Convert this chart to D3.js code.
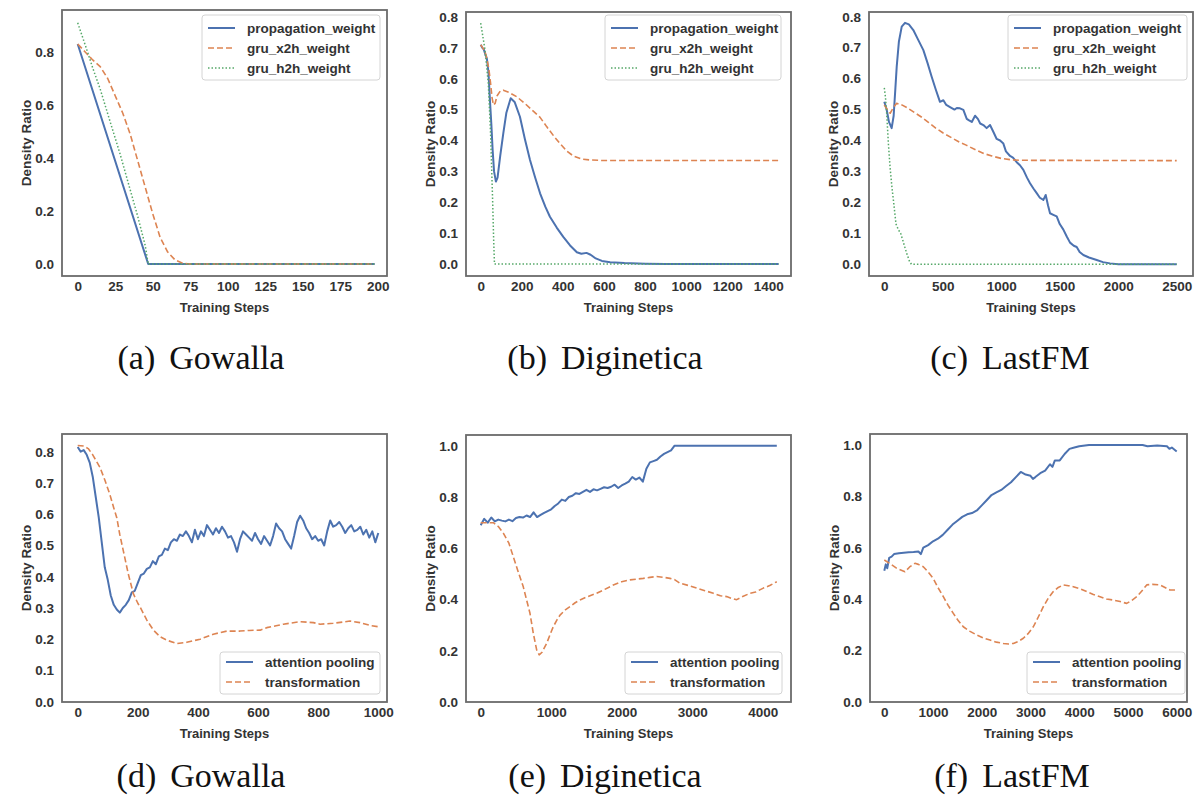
<!DOCTYPE html>
<html>
<head>
<meta charset="utf-8">
<script src="https://cdnjs.cloudflare.com/ajax/libs/d3/7.8.5/d3.min.js"></script>
<style>
  body { margin: 0; background: #fff; }
  svg { display: block; }
</style>
</head>
<body>
<svg id="chart" width="1195" height="804"></svg>
<script>
// ---- data: (a) Gowalla, weights ----
const gowallaPropSteps = [0, 47, 198];
const gowallaPropVals = [0.83, 0.0, 0.0];
const gowallaX2hSteps = [0, 5, 10, 15, 20, 25, 30, 35, 40, 45, 50, 55, 60, 65, 70, 75, 198];
const gowallaX2hVals = [0.83, 0.80, 0.77, 0.745, 0.70, 0.635, 0.57, 0.49, 0.39, 0.29, 0.19, 0.10, 0.045, 0.015, 0.003, 0.0, 0.0];
const gowallaH2hSteps = [0, 6, 10, 15, 22, 28, 35, 40, 45, 47, 198];
const gowallaH2hVals = [0.91, 0.81, 0.74, 0.66, 0.53, 0.42, 0.28, 0.18, 0.07, 0.0, 0.0];

// ---- data: (b) Diginetica, weights ----
const digiPropSteps = [0, 8, 15, 22, 30, 38, 45, 52, 58, 65, 74, 82, 95, 110, 125, 146, 165, 191, 215, 240, 265, 289, 315, 337, 370, 402, 435, 468, 490, 515, 535, 560, 590, 630, 700, 800, 900, 1450];
const digiPropVals = [0.71, 0.70, 0.695, 0.68, 0.665, 0.62, 0.53, 0.45, 0.37, 0.30, 0.267, 0.28, 0.35, 0.423, 0.49, 0.537, 0.525, 0.477, 0.405, 0.337, 0.28, 0.229, 0.185, 0.153, 0.118, 0.088, 0.06, 0.038, 0.033, 0.036, 0.03, 0.018, 0.01, 0.006, 0.003, 0.001, 0.0, 0.0];
const digiX2hSteps = [0, 10, 20, 30, 40, 48, 55, 62, 70, 80, 95, 110, 140, 175, 215, 256, 289, 321, 355, 386, 420, 451, 490, 532, 600, 1450];
const digiX2hVals = [0.71, 0.70, 0.69, 0.665, 0.63, 0.586, 0.54, 0.515, 0.52, 0.545, 0.56, 0.563, 0.555, 0.542, 0.52, 0.495, 0.475, 0.445, 0.415, 0.39, 0.365, 0.35, 0.34, 0.337, 0.335, 0.335];
const digiH2hSteps = [0, 5, 21, 37, 48, 58, 63, 67, 1450];
const digiH2hVals = [0.78, 0.76, 0.693, 0.585, 0.424, 0.207, 0.08, 0.0, 0.0];

// ---- data: (c) LastFM, weights ----
const lastfmPropSteps = [0, 20, 40, 63, 80, 95, 106, 125, 149, 177, 210, 248, 290, 334, 370, 405, 440, 476, 505, 530, 562, 600, 620, 647, 676, 705, 725, 748, 776, 800, 820, 847, 875, 904, 930, 961, 990, 1018, 1040, 1075, 1100, 1132, 1160, 1189, 1220, 1246, 1275, 1303, 1330, 1360, 1380, 1400, 1417, 1445, 1474, 1500, 1531, 1560, 1588, 1620, 1645, 1670, 1702, 1750, 1816, 1870, 1930, 2000, 2500];
const lastfmPropVals = [0.525, 0.50, 0.46, 0.44, 0.48, 0.57, 0.638, 0.72, 0.768, 0.78, 0.775, 0.757, 0.725, 0.692, 0.65, 0.606, 0.565, 0.525, 0.53, 0.515, 0.508, 0.50, 0.505, 0.504, 0.499, 0.47, 0.465, 0.46, 0.48, 0.47, 0.455, 0.45, 0.44, 0.45, 0.43, 0.405, 0.40, 0.39, 0.365, 0.35, 0.345, 0.33, 0.32, 0.305, 0.28, 0.262, 0.245, 0.23, 0.215, 0.208, 0.224, 0.19, 0.165, 0.16, 0.155, 0.13, 0.112, 0.09, 0.07, 0.06, 0.056, 0.04, 0.03, 0.022, 0.014, 0.007, 0.003, 0.0, 0.0];
const lastfmX2hSteps = [0, 25, 50, 75, 106, 150, 200, 260, 320, 380, 440, 500, 570, 640, 700, 780, 850, 920, 1000, 1080, 1160, 2500];
const lastfmX2hVals = [0.515, 0.50, 0.488, 0.505, 0.52, 0.515, 0.505, 0.49, 0.475, 0.458, 0.44, 0.425, 0.41, 0.395, 0.385, 0.37, 0.358, 0.35, 0.342, 0.338, 0.336, 0.335];
const lastfmH2hSteps = [0, 10, 20, 35, 50, 65, 80, 100, 120, 140, 160, 191, 215, 232, 2500];
const lastfmH2hVals = [0.57, 0.54, 0.49, 0.39, 0.31, 0.25, 0.20, 0.13, 0.112, 0.10, 0.075, 0.036, 0.01, 0.0, 0.0];

// ---- data: (d) Gowalla, modules ----
const gowallaAttSteps = d3.range(0, 1001, 10);
const gowallaAttVals = [
  0.815, 0.80, 0.805, 0.79, 0.765, 0.72, 0.655, 0.59, 0.51, 0.43,
  0.39, 0.34, 0.31, 0.295, 0.285, 0.30, 0.31, 0.325, 0.35, 0.355,
  0.38, 0.405, 0.41, 0.425, 0.43, 0.45, 0.44, 0.465, 0.47, 0.49,
  0.485, 0.51, 0.52, 0.515, 0.535, 0.53, 0.545, 0.53, 0.51, 0.55,
  0.52, 0.545, 0.53, 0.565, 0.55, 0.535, 0.555, 0.54, 0.56, 0.545,
  0.525, 0.53, 0.51, 0.48, 0.52, 0.545, 0.535, 0.525, 0.515, 0.54,
  0.52, 0.505, 0.53, 0.515, 0.50, 0.53, 0.57, 0.555, 0.545, 0.52,
  0.505, 0.49, 0.53, 0.575, 0.595, 0.58, 0.555, 0.54, 0.52, 0.53,
  0.515, 0.52, 0.50, 0.545, 0.58, 0.56, 0.565, 0.575, 0.56, 0.54,
  0.555, 0.565, 0.545, 0.55, 0.56, 0.535, 0.55, 0.525, 0.545, 0.51,
  0.54];
const gowallaTransSteps = [0, 20, 35, 50, 74, 90, 107, 120, 130, 140, 152, 168, 185, 200, 207, 230, 252, 274, 296, 329, 363, 407, 451, 496, 540, 570, 607, 629, 660, 684, 740, 784, 806, 850, 906, 939, 978, 1000];
const gowallaTransVals = [0.82, 0.818, 0.81, 0.79, 0.75, 0.71, 0.663, 0.62, 0.589, 0.535, 0.482, 0.41, 0.346, 0.315, 0.304, 0.261, 0.229, 0.208, 0.197, 0.186, 0.19, 0.20, 0.216, 0.226, 0.226, 0.228, 0.229, 0.237, 0.243, 0.248, 0.256, 0.253, 0.248, 0.251, 0.258, 0.253, 0.243, 0.24];

// ---- data: (e) Diginetica, modules ----
const digiAttSteps = d3.range(0, 2751, 50).concat([2800, 4200]);
const digiAttVals = [
  0.69, 0.715, 0.70, 0.72, 0.705, 0.712, 0.708, 0.705, 0.712, 0.706,
  0.718, 0.722, 0.72, 0.728, 0.722, 0.74, 0.722, 0.73, 0.738, 0.745,
  0.752, 0.765, 0.775, 0.79, 0.785, 0.80, 0.805, 0.815, 0.812, 0.82,
  0.828, 0.82, 0.83, 0.826, 0.832, 0.838, 0.835, 0.84, 0.848, 0.835,
  0.845, 0.852, 0.86, 0.878, 0.868, 0.876, 0.86, 0.91, 0.935, 0.94,
  0.945, 0.958, 0.968, 0.975, 0.982, 1.0,
  1.0, 1.0];
const digiTransSteps = [0, 100, 179, 250, 321, 400, 463, 530, 604, 650, 699, 746, 794, 830, 870, 936, 1000, 1030, 1080, 1125, 1200, 1267, 1340, 1409, 1500, 1645, 1760, 1881, 2000, 2118, 2210, 2307, 2400, 2496, 2600, 2685, 2750, 2827, 2950, 3064, 3180, 3300, 3400, 3489, 3560, 3631, 3700, 3820, 3900, 4009, 4100, 4200];
const digiTransVals = [0.70, 0.70, 0.70, 0.685, 0.659, 0.62, 0.567, 0.51, 0.45, 0.40, 0.347, 0.269, 0.204, 0.185, 0.195, 0.23, 0.275, 0.295, 0.32, 0.34, 0.36, 0.373, 0.388, 0.399, 0.41, 0.425, 0.44, 0.457, 0.47, 0.477, 0.48, 0.483, 0.487, 0.49, 0.487, 0.483, 0.478, 0.464, 0.455, 0.445, 0.435, 0.425, 0.415, 0.412, 0.405, 0.40, 0.41, 0.425, 0.43, 0.445, 0.455, 0.47];

// ---- data: (f) LastFM, modules ----
const lastfmAttSteps = [0, 30, 60, 100, 150, 200, 300, 400, 500, 600, 700, 750, 800, 900, 1000, 1100, 1200, 1300, 1400, 1500, 1600, 1700, 1800, 1900, 2000, 2100, 2200, 2300, 2400, 2500, 2600, 2700, 2800, 2900, 3000, 3050, 3100, 3200, 3300, 3400, 3450, 3500, 3600, 3700, 3800, 3900, 4000, 4200, 5300, 5400, 5600, 5800, 5850, 5900, 6000];
const lastfmAttVals = [0.51, 0.535, 0.52, 0.56, 0.565, 0.575, 0.578, 0.58, 0.582, 0.583, 0.585, 0.575, 0.60, 0.61, 0.625, 0.635, 0.65, 0.67, 0.69, 0.705, 0.72, 0.73, 0.735, 0.745, 0.765, 0.785, 0.805, 0.815, 0.825, 0.84, 0.855, 0.875, 0.895, 0.885, 0.88, 0.868, 0.875, 0.89, 0.90, 0.925, 0.915, 0.94, 0.94, 0.965, 0.985, 0.99, 0.995, 1.0, 1.0, 0.995, 0.998, 0.995, 0.985, 0.99, 0.975];
const lastfmTransSteps = [0, 100, 250, 424, 520, 629, 700, 800, 900, 1005, 1100, 1211, 1310, 1416, 1520, 1621, 1750, 1896, 2030, 2169, 2300, 2442, 2550, 2648, 2750, 2853, 2950, 3058, 3160, 3263, 3370, 3468, 3570, 3674, 3780, 3879, 4020, 4153, 4290, 4427, 4560, 4700, 4840, 4974, 5080, 5180, 5280, 5385, 5500, 5658, 5760, 5863, 6000];
const lastfmTransVals = [0.552, 0.54, 0.52, 0.506, 0.525, 0.539, 0.535, 0.526, 0.505, 0.48, 0.445, 0.409, 0.375, 0.344, 0.315, 0.292, 0.275, 0.26, 0.248, 0.24, 0.232, 0.227, 0.225, 0.227, 0.235, 0.247, 0.265, 0.292, 0.33, 0.37, 0.405, 0.429, 0.445, 0.455, 0.452, 0.448, 0.44, 0.429, 0.418, 0.409, 0.40, 0.396, 0.39, 0.383, 0.395, 0.409, 0.43, 0.455, 0.457, 0.455, 0.445, 0.435, 0.435];

// ---- labels & ticks ----
const weightNames = ["propagation_weight", "gru_x2h_weight", "gru_h2h_weight"];
const moduleNames = ["attention pooling", "transformation"];
const captions = ["(a)", "Gowalla", "(b)", "Diginetica", "(c)", "LastFM", "(d)", "Gowalla", "(e)", "Diginetica", "(f)", "LastFM"];
const ticksA = [0, 25, 50, 75, 100, 125, 150, 175, 200];
const ticksB = [0, 200, 400, 600, 800, 1000, 1200, 1400];
const ticksC = [0, 500, 1000, 1500, 2000, 2500];
const ticksD = [0, 200, 400, 600, 800, 1000];
const ticksE = [0, 1000, 2000, 3000, 4000];
const ticksF = [0, 1000, 2000, 3000, 4000, 5000, 6000];
const yTicksTenths = [0, 0.1, 0.2, 0.3, 0.4, 0.5, 0.6, 0.7, 0.8];
const yTicksFifths = [0, 0.2, 0.4, 0.6, 0.8];
const yTicksUnit = [0, 0.2, 0.4, 0.6, 0.8, 1.0];

// ---- styles ----
const sansFont = "'Liberation Sans', Arial, sans-serif";
const serifFont = "'Liberation Serif', 'Times New Roman', serif";
const styles = {
  solid: { stroke: "#4c72b0", width: 2, dash: null },
  dashed: { stroke: "#dd8452", width: 1.6, dash: "6,3" },
  dotted: { stroke: "#55a868", width: 1.5, dash: "1.5,2" },
  frame: "#6b6b6b",
  tick: "#333"
};

const svg = d3.select("#chart");

// frame = [left, right, top, bottom]; xRef/yRef map two known tick values to pixels
const panels = [
  { id: "a", frame: [62, 387, 10, 276], xRef: [0, 200], xPx: [77.7, 377.7], yRef: [0, 0.8], yPx: [264, 52],
    xTicks: ticksA, yTicks: yTicksFifths,
    series: [[gowallaPropSteps, gowallaPropVals, styles.solid], [gowallaX2hSteps, gowallaX2hVals, styles.dashed], [gowallaH2hSteps, gowallaH2hVals, styles.dotted]],
    names: weightNames, legend: { x: 202, y: 15, w: 178, h: 65, rows: [28, 48, 68] },
    cap: [0, 1], capX: 201, capY: 369 },
  { id: "b", frame: [466, 791, 12, 276], xRef: [0, 1400], xPx: [480.7, 768.3], yRef: [0, 0.8], yPx: [264, 17],
    xTicks: ticksB, yTicks: yTicksTenths,
    series: [[digiPropSteps, digiPropVals, styles.solid], [digiX2hSteps, digiX2hVals, styles.dashed], [digiH2hSteps, digiH2hVals, styles.dotted]],
    names: weightNames, legend: { x: 605, y: 15, w: 176, h: 65, rows: [28, 48, 68] },
    cap: [2, 3], capX: 605, capY: 369 },
  { id: "c", frame: [869, 1193, 12, 276], xRef: [0, 2500], xPx: [884.3, 1176.7], yRef: [0, 0.8], yPx: [264.3, 16.7],
    xTicks: ticksC, yTicks: yTicksTenths,
    series: [[lastfmPropSteps, lastfmPropVals, styles.solid], [lastfmX2hSteps, lastfmX2hVals, styles.dashed], [lastfmH2hSteps, lastfmH2hVals, styles.dotted]],
    names: weightNames, legend: { x: 1008, y: 15, w: 179, h: 65, rows: [28, 48, 68] },
    cap: [4, 5], capX: 1010, capY: 369 },
  { id: "d", frame: [62, 387, 434, 702], xRef: [0, 1000], xPx: [77.7, 378.3], yRef: [0, 0.8], yPx: [701.7, 451.7],
    xTicks: ticksD, yTicks: yTicksTenths,
    series: [[gowallaAttSteps, gowallaAttVals, styles.solid], [gowallaTransSteps, gowallaTransVals, styles.dashed]],
    names: moduleNames, legend: { x: 220, y: 652, w: 160, h: 42, rows: [662, 682] },
    cap: [6, 7], capX: 201, capY: 787 },
  { id: "e", frame: [466, 791, 435, 702], xRef: [0, 4000], xPx: [480.7, 762.7], yRef: [0, 1.0], yPx: [702.3, 445.7],
    xTicks: ticksE, yTicks: yTicksUnit,
    series: [[digiAttSteps, digiAttVals, styles.solid], [digiTransSteps, digiTransVals, styles.dashed]],
    names: moduleNames, legend: { x: 625, y: 652, w: 157, h: 42, rows: [662, 682] },
    cap: [8, 9], capX: 605, capY: 787 },
  { id: "f", frame: [870, 1187, 434, 702], xRef: [0, 6000], xPx: [884.3, 1176.7], yRef: [0, 1.0], yPx: [701.7, 445],
    xTicks: ticksF, yTicks: yTicksUnit,
    series: [[lastfmAttSteps, lastfmAttVals, styles.solid], [lastfmTransSteps, lastfmTransVals, styles.dashed]],
    names: moduleNames, legend: { x: 1027, y: 652, w: 158, h: 42, rows: [662, 682] },
    cap: [10, 11], capX: 1012, capY: 787 }
];

function applyStroke(sel, st) {
  sel.attr("fill", "none")
    .attr("stroke", st.stroke)
    .attr("stroke-width", st.width)
    .attr("stroke-linejoin", "round")
    .attr("stroke-dasharray", st.dash);
}

function drawPanel(p) {
  const [L, R, T, B] = p.frame;
  const g = svg.append("g").attr("class", "panel-" + p.id);
  const x = d3.scaleLinear().domain(p.xRef).range(p.xPx);
  const y = d3.scaleLinear().domain(p.yRef).range(p.yPx);

  g.append("clipPath").attr("id", "clip-" + p.id)
    .append("rect").attr("x", L).attr("y", T).attr("width", R - L).attr("height", B - T);

  const line = d3.line().x(d => x(d[0])).y(d => y(d[1]));
  const plot = g.append("g").attr("clip-path", `url(#clip-${p.id})`);
  p.series.forEach(([steps, vals, st]) => {
    const pts = steps.map((s, i) => [s, vals[i]]);
    applyStroke(plot.append("path").attr("d", line(pts)), st);
  });

  // x axis (no tick marks, seaborn white style)
  const xAxis = g.append("g").attr("transform", `translate(0,${B})`)
    .call(d3.axisBottom(x).tickValues(p.xTicks).tickSize(0).tickPadding(5).tickFormat(d3.format("d")));
  xAxis.select(".domain").remove();
  xAxis.selectAll("text").attr("font-family", sansFont).attr("font-size", 13.5)
    .attr("font-weight", "bold").attr("fill", styles.tick);

  const yAxis = g.append("g").attr("transform", `translate(${L},0)`)
    .call(d3.axisLeft(y).tickValues(p.yTicks).tickSize(0).tickPadding(8).tickFormat(d3.format(".1f")));
  yAxis.select(".domain").remove();
  yAxis.selectAll("text").attr("font-family", sansFont).attr("font-size", 13.5)
    .attr("font-weight", "bold").attr("fill", styles.tick);

  // frame
  g.append("rect").attr("x", L).attr("y", T).attr("width", R - L).attr("height", B - T)
    .attr("fill", "none").attr("stroke", styles.frame).attr("stroke-width", 1.8);

  // axis titles
  g.append("text").attr("x", (L + R) / 2).attr("y", B + 36)
    .attr("text-anchor", "middle").attr("font-family", sansFont).attr("font-size", 13)
    .attr("font-weight", "bold").attr("fill", styles.tick).text("Training Steps");
  g.append("text").attr("transform", `translate(${L - 31},${(T + B) / 2}) rotate(-90)`)
    .attr("text-anchor", "middle").attr("font-family", sansFont).attr("font-size", 13.5)
    .attr("font-weight", "bold").attr("fill", styles.tick).text("Density Ratio");

  // legend
  const lg = p.legend;
  g.append("rect").attr("x", lg.x).attr("y", lg.y).attr("width", lg.w).attr("height", lg.h)
    .attr("rx", 3).attr("fill", "#fff").attr("fill-opacity", 0.85)
    .attr("stroke", "#d4d4d4").attr("stroke-width", 1);
  p.names.forEach((name, i) => {
    const ry = lg.rows[i];
    applyStroke(g.append("line").attr("x1", lg.x + 6).attr("x2", lg.x + 33).attr("y1", ry).attr("y2", ry), p.series[i][2]);
    g.append("text").attr("x", lg.x + 45).attr("y", ry).attr("dy", "0.35em")
      .attr("font-family", sansFont).attr("font-size", 13.5).attr("font-weight", "bold")
      .attr("fill", styles.tick).text(name);
  });

  // caption
  const cap = g.append("text").attr("x", p.capX).attr("y", p.capY).attr("text-anchor", "middle")
    .attr("font-family", serifFont).attr("font-size", 34).attr("fill", "#111");
  cap.append("tspan").text(captions[p.cap[0]]);
  cap.append("tspan").attr("dx", 14).text(captions[p.cap[1]]);
}

panels.forEach(drawPanel);
</script>
</body>
</html>
